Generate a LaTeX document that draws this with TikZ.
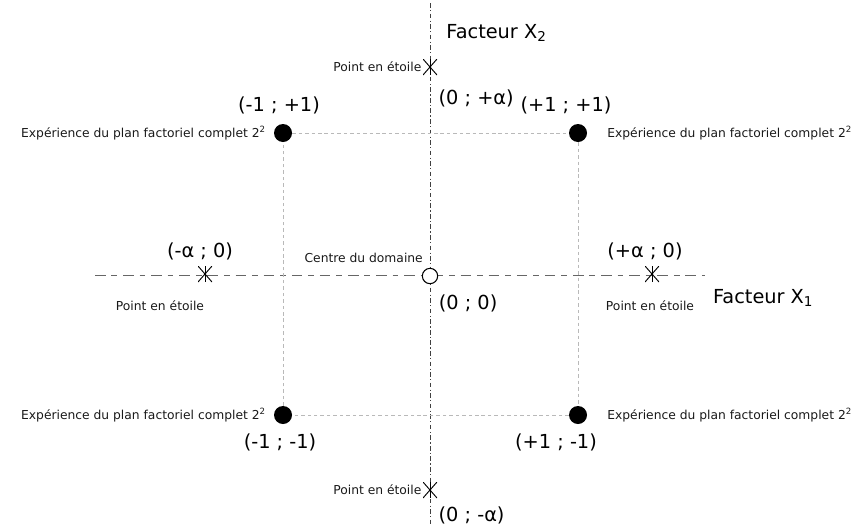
\documentclass[tikz,border=0pt]{standalone}
\usepackage{fontspec}
\setmainfont{DejaVu Sans}
\usetikzlibrary{positioning}

\begin{document}
\begin{tikzpicture}[
    x=0.03cm, y=-0.03cm,
    essai/.style={circle, fill=black, minimum size=0.54cm, inner sep=0pt},
    centre/.style={circle, draw=black, line width=0.9pt, fill=white, minimum size=0.46cm, inner sep=0pt},
    etoile/.style={minimum width=0.42cm, minimum height=0.48cm, inner sep=0pt,
      path picture={
        \draw[line width=0.8pt] (path picture bounding box.north) -- (path picture bounding box.south);
        \draw[line width=0.8pt] (path picture bounding box.north west) -- (path picture bounding box.south east);
        \draw[line width=0.8pt] (path picture bounding box.north east) -- (path picture bounding box.south west);
      }},
    coord/.style={font=\fontsize{16.5}{18}\selectfont, inner sep=1pt},
    petit/.style={font=\fontsize{10.5}{12}\selectfont, inner sep=1pt, text=black!90},
    axeX/.style={gray!80!black, line width=0.7pt, dash pattern=on 9pt off 5pt on 5pt off 5pt},
    axeY/.style={black!75, line width=0.8pt, dash pattern=on 4pt off 2pt on 1pt off 2pt},
    cadre/.style={gray!55, line width=0.5pt, dash pattern=on 3pt off 2.5pt}
  ]
  \useasboundingbox (0,0) rectangle (853,525);

  % Axes
  \coordinate (yN) at (430,3);
  \coordinate (yS) at (430,525);
  \coordinate (xW) at (95,275);
  \coordinate (xE) at (705,275);
  \draw[axeY] (yN) -- (yS);
  \draw[axeX] (xW) -- (xE);

  % Points of the full factorial design
  \node[essai] (cUL) at (283,133) {};
  \node[essai] (cUR) at (578,133) {};
  \node[essai] (cLL) at (283,415) {};
  \node[essai] (cLR) at (578,415) {};
  \draw[cadre] (cUL) -- (cUR) -- (cLR) -- (cLL) -- (cUL);

  % Star points and centre
  \node[etoile] (sN) at (430,67) {};
  \node[etoile] (sS) at (430,490) {};
  \node[etoile] (sW) at (205,274) {};
  \node[etoile] (sE) at (652,274) {};
  \node[centre] (ctr) at (430,276) {};

  % Axis names
  \node[coord, right=0.45cm of yN, yshift=-0.9cm] (fX2) {Facteur X\textsubscript{2}};
  \node[coord, right=0.2cm of xE, yshift=-0.69cm] (fX1) {Facteur X\textsubscript{1}};

  % Corner labels
  \node[petit, left=0.2cm of cUL] (tUL) {Expérience du plan factoriel complet 2\textsuperscript{2}};
  \node[petit, right=0.56cm of cUR] (tUR) {Expérience du plan factoriel complet 2\textsuperscript{2}};
  \node[petit, left=0.2cm of cLL] (tLL) {Expérience du plan factoriel complet 2\textsuperscript{2}};
  \node[petit, right=0.56cm of cLR] (tLR) {Expérience du plan factoriel complet 2\textsuperscript{2}};
  \node[coord, above=0.25cm of cUL, xshift=-0.12cm] (vUL) {(-1 ; +1)};
  \node[coord, above=0.25cm of cUR, xshift=-0.36cm] (vUR) {(+1 ; +1)};
  \node[coord, below=0.25cm of cLL, xshift=-0.09cm] (vLL) {(-1 ; -1)};
  \node[coord, below=0.25cm of cLR, xshift=-0.66cm] (vLR) {(+1 ; -1)};

  % Star labels
  \node[petit, left=0cm of sN] (tN) {Point en étoile};
  \node[coord, below right=0.4cm and 0cm of sN] (vN) {(0 ; +α)};
  \node[petit, left=0cm of sS] (tS) {Point en étoile};
  \node[coord, below right=0.22cm and 0cm of sS] (vS) {(0 ; -α)};
  \node[coord, above=0.12cm of sW, xshift=-0.15cm] (vW) {(-α ; 0)};
  \node[petit, below=0.5cm of sW, xshift=-1.35cm] (tW) {Point en étoile};
  \node[coord, above=0.12cm of sE, xshift=-0.21cm] (vE) {(+α ; 0)};
  \node[petit, below=0.5cm of sE, xshift=-0.06cm] (tE) {Point en étoile};

  % Centre labels
  \node[petit, above left=0.18cm and 0cm of ctr] (tC) {Centre du domaine};
  \node[coord, below right=0.35cm and 0.05cm of ctr] (vC) {(0 ; 0)};
\end{tikzpicture}
\end{document}
